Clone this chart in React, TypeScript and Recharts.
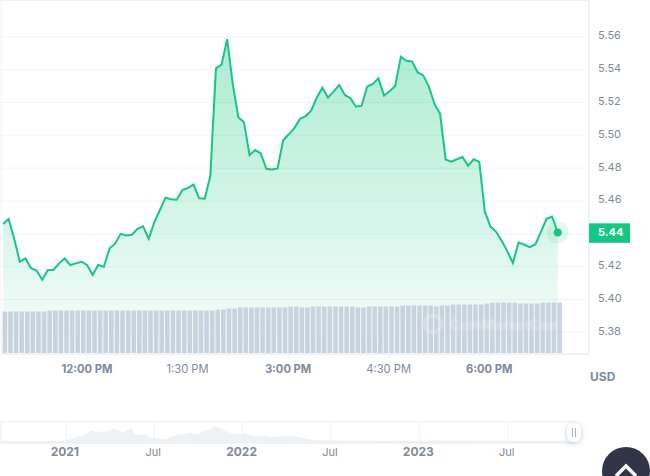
import {
  Area,
  AreaChart,
  Bar,
  CartesianGrid,
  ComposedChart,
  ReferenceLine,
  XAxis,
  YAxis,
} from "recharts";

const prices = [
  5.446, 5.449, 5.437, 5.423, 5.425, 5.419, 5.4176, 5.412, 5.418, 5.418,
  5.422, 5.425, 5.421, 5.422, 5.423, 5.421, 5.415, 5.421, 5.42, 5.431,
  5.434, 5.44, 5.439, 5.4394, 5.443, 5.4446, 5.437, 5.447, 5.4545, 5.462,
  5.461, 5.4608, 5.4666, 5.468, 5.47, 5.4616, 5.4614, 5.4753, 5.5408, 5.543,
  5.5585, 5.5313, 5.511, 5.508, 5.488, 5.491, 5.489, 5.4796, 5.4792, 5.4798,
  5.497, 5.5006, 5.5044, 5.51, 5.5117, 5.515, 5.523, 5.529, 5.523, 5.5266,
  5.5307, 5.5246, 5.5226, 5.5174, 5.518, 5.5297, 5.5313, 5.5347, 5.5242, 5.5268,
  5.53, 5.5479, 5.5454, 5.545, 5.5383, 5.5365, 5.5297, 5.5192, 5.5131, 5.4853,
  5.484, 5.4854, 5.4868, 5.4814, 5.4854, 5.4838, 5.4533, 5.4444, 5.4412, 5.4357,
  5.4293, 5.4222, 5.4347, 5.4335, 5.4319, 5.4335, 5.4412, 5.4491, 5.4505, 5.4408,
];

const volumes = [
  425, 425, 425, 425, 425, 425, 425, 425, 435, 435,
  435, 435, 435, 435, 435, 435, 435, 435, 435, 435,
  435, 435, 435, 435, 435, 435, 435, 435, 435, 435,
  435, 435, 435, 435, 435, 435, 435, 435, 445, 445,
  455, 455, 465, 465, 465, 465, 465, 465, 465, 465,
  465, 475, 475, 465, 465, 475, 475, 475, 475, 475,
  475, 475, 475, 465, 465, 475, 475, 475, 475, 475,
  475, 485, 485, 485, 485, 485, 485, 475, 485, 485,
  495, 495, 495, 495, 495, 495, 505, 515, 515, 515,
  515, 515, 505, 505, 505, 505, 515, 515, 515, 515,
];

const priceTicks = [5.38, 5.4, 5.42, 5.44, 5.46, 5.48, 5.5, 5.52, 5.54, 5.56];
const timeTicks = [720, 810, 900, 990, 1080];
const timeLabels = ["12:00 PM", "1:30 PM", "3:00 PM", "4:30 PM", "6:00 PM"];
const boldTimes = ["12:00 PM", "3:00 PM", "6:00 PM"];

const navYears = [
  2020.633, 2020.727, 2020.821, 2020.915, 2020.991, 2021.038, 2021.066, 2021.094, 2021.123, 2021.145,
  2021.179, 2021.217, 2021.236, 2021.264, 2021.292, 2021.32, 2021.358, 2021.371, 2021.386, 2021.414,
  2021.462, 2021.48, 2021.518, 2021.556, 2021.593, 2021.631, 2021.669, 2021.697, 2021.744, 2021.782,
  2021.819, 2021.848, 2021.885, 2021.932, 2021.97, 2022.017, 2022.064, 2022.121, 2022.158, 2022.196,
  2022.243, 2022.29, 2022.328, 2022.356, 2022.413, 2022.469, 2022.8, 2023.2, 2023.6, 2023.875,
];
const navValues = [
  3.4, 2.7, 2.7, 3.0, 3.4, 5.4, 7.4, 7.7, 11, 13.4,
  12, 12.7, 12.4, 15, 14.4, 11.4, 14.4, 16, 10.4, 8.7,
  9.4, 6, 5.7, 4.4, 7, 9.4, 10, 11.4, 10, 13,
  14.7, 17.7, 14.7, 11, 9.7, 10.4, 7.7, 8.4, 7, 7,
  8.4, 7.4, 6.7, 5.4, 3.7, 3.4, 3.3, 3.4, 3.2, 3.2,
];
const navTicks = [2021, 2021.5, 2022, 2022.5, 2023, 2023.5];
const navLabels = ["2021", "Jul", "2022", "Jul", "2023", "Jul"];

const FONT = "Inter, sans-serif";
const GREEN = "#16c784";
const GREY = "#808a9d";
const LINE = "#eff2f5";

const rows = prices.map((price, i) => ({
  time: 645 + i * 5,
  price,
  volume: volumes[i],
}));
const navRows = navYears.map((year, i) => ({ year, value: navValues[i] }));

function PriceTick({ y, payload }: any) {
  const current = payload.value === 5.44;
  return (
    <g>
      {current && <rect x={589} y={y - 10.5} width={41} height={19.5} fill={GREEN} />}
      <text
        x={598}
        y={y}
        dy={2.5}
        fontFamily={FONT}
        fontSize={11}
        fontWeight={current ? 700 : 400}
        fill={current ? "#fff" : GREY}
      >
        {payload.value.toFixed(2)}
      </text>
    </g>
  );
}

function TimeTick({ x, y, payload }: any) {
  const label = timeLabels[timeTicks.indexOf(payload.value)];
  return (
    <text
      x={x - 0.5}
      y={y}
      dy={12.5}
      textAnchor="middle"
      fontFamily={FONT}
      fontSize={11.2}
      fontWeight={boldTimes.includes(label) ? 700 : 400}
      fill={GREY}
    >
      {label}
    </text>
  );
}

function NavTick({ x, y, payload }: any) {
  const label = navLabels[navTicks.indexOf(payload.value)];
  return (
    <text
      x={x - 1}
      y={y}
      dy={4}
      textAnchor="middle"
      fontFamily={FONT}
      fontSize={label === "Jul" ? 11 : 12}
      fontWeight={label === "Jul" ? 400 : 700}
      fill={GREY}
    >
      {label}
    </text>
  );
}

function LastDot({ cx, cy, index }: any) {
  if (index !== prices.length - 1) return null;
  return (
    <g>
      <circle cx={cx} cy={cy} r={11} fill={GREEN} opacity={0.12} />
      <circle cx={cx} cy={cy} r={4} fill={GREEN} />
    </g>
  );
}

export default function App() {
  return (
    <div
      style={{
        position: "absolute",
        left: 0,
        top: 0,
        width: 650,
        height: 476,
        overflow: "hidden",
        background: "#fff",
        fontFamily: FONT,
      }}
    >
      <div style={{ position: "absolute", left: 0, top: 0 }}>
        <ComposedChart
          width={650}
          height={400}
          data={rows}
          margin={{ top: 0, right: 1, bottom: 16, left: 1 }}
        >
          <defs>
            <linearGradient id="priceFill" x1="0" y1="0" x2="0" y2="1">
              <stop offset="0%" stopColor={GREEN} stopOpacity={0.36} />
              <stop offset="100%" stopColor={GREEN} stopOpacity={0.03} />
            </linearGradient>
          </defs>
          <CartesianGrid
            xAxisId="time"
            yAxisId="price"
            vertical={false}
            stroke="#f3f5f7"
          />
          <XAxis
            xAxisId="time"
            dataKey="time"
            type="number"
            domain={[642.6, 1168.9]}
            ticks={timeTicks}
            height={30}
            tick={<TimeTick />}
            tickSize={4}
            tickLine={{ stroke: LINE }}
            axisLine={{ stroke: LINE, strokeWidth: 2 }}
            allowDataOverflow
          />
          <XAxis
            xAxisId="line"
            dataKey="time"
            type="number"
            domain={[643.2, 1167.9]}
            height={0}
            hide
            allowDataOverflow
          />
          <XAxis
            xAxisId="vol"
            dataKey="time"
            type="number"
            domain={[642, 1166.7]}
            height={0}
            hide
            allowDataOverflow
          />
          <YAxis
            yAxisId="price"
            orientation="right"
            domain={[5.3668, 5.5824]}
            ticks={priceTicks}
            width={60}
            tick={<PriceTick />}
            tickLine={false}
            axisLine={{ stroke: LINE, strokeWidth: 2 }}
            allowDataOverflow
          />
          <YAxis yAxisId="vol" domain={[0, 3540]} hide allowDataOverflow />
          <ReferenceLine
            xAxisId="time"
            yAxisId="price"
            y={5.5824}
            stroke={LINE}
            strokeWidth={2}
          />
          <ReferenceLine
            xAxisId="time"
            yAxisId="price"
            x={642.6}
            stroke={LINE}
            strokeWidth={1}
          />
          <Area
            xAxisId="line"
            yAxisId="price"
            dataKey="price"
            type="linear"
            stroke={GREEN}
            strokeWidth={2}
            fill="url(#priceFill)"
            fillOpacity={1}
            dot={<LastDot />}
            activeDot={false}
            isAnimationActive={false}
          />
          <Bar
            xAxisId="vol"
            yAxisId="vol"
            dataKey="volume"
            barSize={4.6}
            fill="#c8d3e0"
            isAnimationActive={false}
          />
        </ComposedChart>
      </div>

      {/* faint watermark over the volume bars */}
      <div
        style={{
          position: "absolute",
          left: 423,
          top: 314,
          width: 14,
          height: 14,
          borderRadius: 10,
          border: "3px solid rgba(255,255,255,0.3)",
          filter: "blur(0.8px)",
        }}
      />
      <div
        style={{
          position: "absolute",
          left: 450,
          top: 316,
          fontSize: 14,
          lineHeight: "18px",
          fontWeight: 700,
          color: "rgba(255,255,255,0.32)",
          filter: "blur(0.8px)",
          whiteSpace: "nowrap",
        }}
      >
        CoinMarketCap
      </div>

      <div
        style={{
          position: "absolute",
          left: 590,
          top: 369,
          fontSize: 12,
          fontWeight: 700,
          color: GREY,
        }}
      >
        USD
      </div>

      <div style={{ position: "absolute", left: 0, top: 421 }}>
        <AreaChart
          width={575}
          height={50}
          data={navRows}
          margin={{ top: 0, right: 1, bottom: 0, left: 1 }}
        >
          <CartesianGrid horizontal={false} stroke={LINE} />
          <XAxis
            dataKey="year"
            type="number"
            domain={[2020.633, 2023.875]}
            ticks={navTicks}
            height={27}
            tick={<NavTick />}
            tickLine={false}
            axisLine={false}
            allowDataOverflow
          />
          <YAxis domain={[0, 23]} hide allowDataOverflow />
          <ReferenceLine y={23} stroke={LINE} strokeWidth={2} />
          <ReferenceLine x={2020.633} stroke={LINE} />
          <Area
            dataKey="value"
            type="linear"
            stroke="none"
            fill={LINE}
            fillOpacity={1}
            dot={false}
            activeDot={false}
            isAnimationActive={false}
          />
        </AreaChart>
      </div>

      <div
        style={{
          position: "absolute",
          left: 567,
          top: 423,
          width: 14,
          height: 19,
          borderRadius: 6,
          background: "#fff",
          boxShadow: "0 1px 5px rgba(88,102,126,0.35)",
        }}
      >
        <div style={{ position: "absolute", left: 5, top: 5, width: 1, height: 9, background: "#a6b0c3" }} />
        <div style={{ position: "absolute", left: 8, top: 5, width: 1, height: 9, background: "#a6b0c3" }} />
      </div>

      <div
        style={{
          position: "absolute",
          left: 602,
          top: 447,
          width: 48,
          height: 48,
          borderRadius: 24,
          background: "#323546",
        }}
      >
        <svg width={48} height={48} style={{ display: "block" }}>
          <polyline
            points="14,29 24,19 34,29"
            fill="none"
            stroke="#fff"
            strokeWidth={3.5}
          />
        </svg>
      </div>
    </div>
  );
}
